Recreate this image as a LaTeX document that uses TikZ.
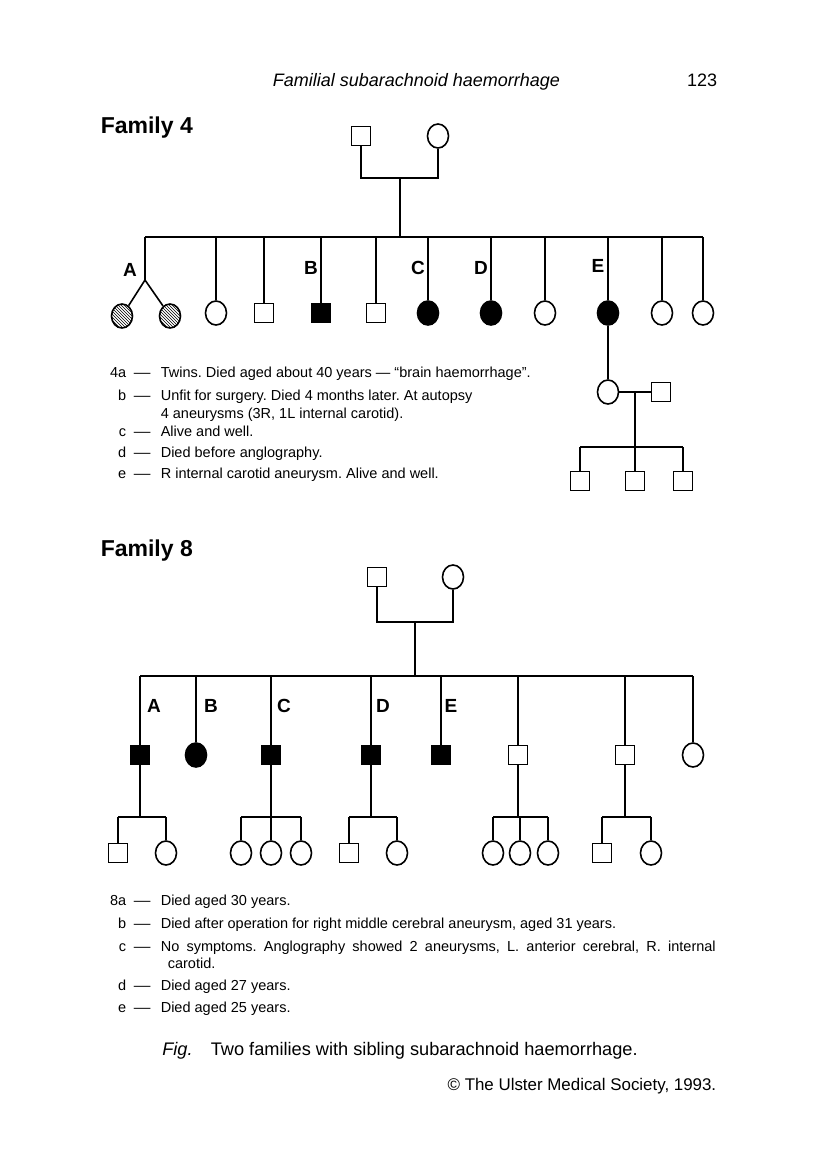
\documentclass[tikz,border=0pt]{standalone}
\usepackage{fontspec}
\setmainfont{Liberation Sans}
\usetikzlibrary{shapes.geometric,patterns}
\frenchspacing

\begin{document}
\begin{tikzpicture}[x=1pt,y=-1pt,line width=1.6pt,
  male/.style={draw,rectangle,minimum size=19pt,inner sep=0pt},
  malesick/.style={male,fill=black},
  female/.style={draw,ellipse,minimum width=21pt,minimum height=24pt,inner sep=0pt},
  femsick/.style={female,fill=black},
  twin/.style={female,pattern=north west lines},
  letter/.style={font=\fontsize{19}{21}\selectfont\bfseries,inner sep=0pt},
  head/.style={font=\fontsize{23}{26}\selectfont\bfseries,anchor=base west,inner sep=0pt},
  note/.style={font=\fontsize{14.5}{17}\selectfont,anchor=base west,inner sep=0pt},
  tag/.style={font=\fontsize{14.5}{17}\selectfont,anchor=base east,inner sep=0pt},
  dashmark/.style={font=\fontsize{14.5}{17}\selectfont,anchor=base west,inner sep=0pt}
]
\fill[white] (0,0) rectangle (816,1168);
\useasboundingbox (0,0) rectangle (816,1168);

% page head
\node[anchor=base west,inner sep=0pt,font=\fontsize{18}{20}\selectfont\itshape] (title) at (272,86) {Familial subarachnoid haemorrhage};
\node[anchor=base east,inner sep=0pt,font=\fontsize{18}{20}\selectfont] (page) at (718,86) {123};

% Family 4
\node[head] (fam4) at (100,133) {Family 4};
\node[male] (f4dad) at (361,136) {};
\node[female] (f4mum) at (438,136) {};
\coordinate (f4mid) at (400,178);
\coordinate (f4bar) at (400,237);
\draw (f4dad) |- (f4mid) -| (f4mum);
\draw (f4mid) -- (f4bar);
\coordinate (f4A) at (145,280);
\node[twin] (f4A1) at (122,316) {};
\node[twin] (f4A2) at (170,316) {};
\draw (f4A1) -- (f4A) -- (f4A2);
\draw (f4A) -- (f4A |- f4bar);
\foreach \x/\s/\n in {216/female/c2,264/male/c3,321/malesick/B,376/male/c5,428/femsick/C,
    491/femsick/D,545/female/c8,608/femsick/E,662/female/c10,703/female/c11}{
  \node[\s] (f4\n) at (\x,313) {};
  \draw (f4\n) -- (f4\n |- f4bar);
}
\draw (f4A |- f4bar) -- (f4c11 |- f4bar);
\node[letter] (l4A) at (130,270) {A};
\node[letter] (l4B) at (311,268) {B};
\node[letter] (l4C) at (418,268) {C};
\node[letter] (l4D) at (481,268) {D};
\node[letter] (l4E) at (598,266) {E};
% E and her family
\node[female] (f4Ew) at (608,392) {};
\node[male] (f4Eh) at (661,392) {};
\draw (f4E) -- (f4Ew);
\draw (f4Ew) -- (f4Eh);
\coordinate (f4Em) at (635,392);
\coordinate (f4Eb) at (635,447);
\draw (f4Em) -- (f4Eb);
\foreach \x/\n in {580/g1,635/g2,683/g3}{
  \node[male] (f4\n) at (\x,481) {};
  \draw (f4\n) -- (f4\n |- f4Eb);
}
\draw (f4g1 |- f4Eb) -- (f4g3 |- f4Eb);

% notes 4
\foreach \y/\k/\t in {377/4a/{Twins. Died aged about 40 years --- ``brain haemorrhage''.},
    400/b/{Unfit for surgery. Died 4 months later. At autopsy},
    436/c/{Alive and well.},
    457/d/{Died before anglography.},
    478/e/{R internal carotid aneurysm. Alive and well.}}{
  \node[tag] (n4\k) at (127,\y) {\k};
  \node[dashmark] at (133,\y) {\scalebox{1.15}[1]{---}};
  \node[note] at (160,\y) {\t};
}
\node[note] (n4b2) at (160,418) {4 aneurysms (3R, 1L internal carotid).};

% Family 8
\node[head] (fam8) at (100,556) {Family 8};
\node[male] (f8dad) at (377,577) {};
\node[female] (f8mum) at (453,577) {};
\coordinate (f8mid) at (415,622);
\coordinate (f8bar) at (415,676);
\coordinate (f8low) at (415,817);
\draw (f8dad) |- (f8mid) -| (f8mum);
\draw (f8mid) -- (f8bar);
\foreach \x/\s/\n in {140/malesick/A,196/femsick/B,271/malesick/C,371/malesick/D,
    441/malesick/E,518/male/c6,625/male/c7,693/female/c8}{
  \node[\s] (f8\n) at (\x,755) {};
  \draw (f8\n) -- (f8\n |- f8bar);
}
\draw (f8A |- f8bar) -- (f8c8 |- f8bar);
\node[letter] (l8A) at (154,706) {A};
\node[letter] (l8B) at (211,706) {B};
\node[letter] (l8C) at (284,706) {C};
\node[letter] (l8D) at (383,706) {D};
\node[letter] (l8E) at (451,706) {E};
% grandchildren
\foreach \x/\s/\n in {118/male/a1,166/female/a2,241/female/c1,271/female/c2,301/female/c3,
    349/male/d1,397/female/d2,493/female/e1,520/female/e2,548/female/e3,602/male/f1,651/female/f2}{
  \node[\s] (f8\n) at (\x,853) {};
  \draw (f8\n) -- (f8\n |- f8low);
}
\draw (f8A) -- (f8A |- f8low);
\draw (f8C) -- (f8C |- f8low);
\draw (f8D) -- (f8D |- f8low);
\draw (f8c6) -- (f8c6 |- f8low);
\draw (f8c7) -- (f8c7 |- f8low);
\draw (f8a1 |- f8low) -- (f8a2 |- f8low);
\draw (f8c1 |- f8low) -- (f8c3 |- f8low);
\draw (f8d1 |- f8low) -- (f8d2 |- f8low);
\draw (f8e1 |- f8low) -- (f8e3 |- f8low);
\draw (f8f1 |- f8low) -- (f8f2 |- f8low);

% notes 8
\foreach \y/\k/\t in {905/8a/{Died aged 30 years.},
    928/b/{Died after operation for right middle cerebral aneurysm, aged 31 years.},
    951/c/{\makebox[555pt][s]{No symptoms. Anglography showed 2 aneurysms, L. anterior cerebral, R. internal}},
    990/d/{Died aged 27 years.},
    1012/e/{Died aged 25 years.}}{
  \node[tag] (n8\k) at (127,\y) {\k};
  \node[dashmark] at (133,\y) {\scalebox{1.15}[1]{---}};
  \node[note] at (160,\y) {\t};
}
\node[note] (n8c2) at (167,968) {carotid.};

% caption
\node[anchor=base,inner sep=0pt,font=\fontsize{18.2}{21}\selectfont] (cap) at (400,1055) {\textit{Fig.}\quad Two families with sibling subarachnoid haemorrhage.};
\node[anchor=base east,inner sep=0pt,font=\fontsize{16.9}{19}\selectfont] (copy) at (717,1090) {\textcopyright{} The Ulster Medical Society, 1993.};
\end{tikzpicture}
\end{document}
